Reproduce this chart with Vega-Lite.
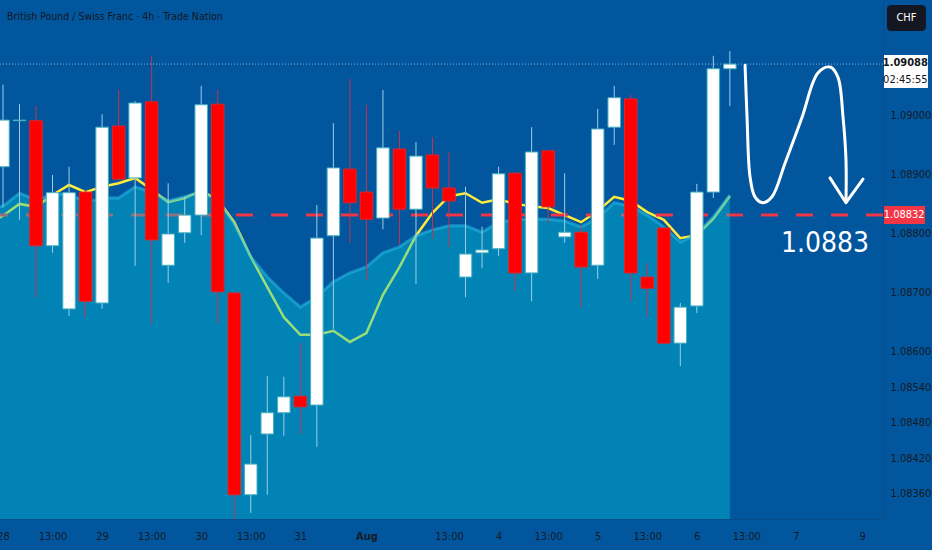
{
  "$schema": "https://vega.github.io/schema/vega-lite/v6.json",
  "width": 883,
  "height": 519,
  "autosize": {"type": "none"},
  "padding": {"left": 0, "top": 0, "right": 49, "bottom": 31},
  "background": "#02569e",
  "config": {"view": {"stroke": null}, "font": "'DejaVu Sans Condensed', 'Roboto Condensed', Roboto, sans-serif"},
  "data": {"values": [{}]},
  "datasets": {
    "candles": [
      {"i": 0, "o": 1.08914, "h": 1.09053, "l": 1.08846, "c": 1.08993},
      {"i": 1, "o": 1.08992, "h": 1.0902, "l": 1.08824, "c": 1.08993},
      {"i": 2, "o": 1.08992, "h": 1.09017, "l": 1.08692, "c": 1.0878},
      {"i": 3, "o": 1.0878, "h": 1.089, "l": 1.08768, "c": 1.0887},
      {"i": 4, "o": 1.08673, "h": 1.08914, "l": 1.08661, "c": 1.0887},
      {"i": 5, "o": 1.08871, "h": 1.08875, "l": 1.08659, "c": 1.08686},
      {"i": 6, "o": 1.08683, "h": 1.09003, "l": 1.08673, "c": 1.08981},
      {"i": 7, "o": 1.08983, "h": 1.09044, "l": 1.0889, "c": 1.08893},
      {"i": 8, "o": 1.08895, "h": 1.09025, "l": 1.08746, "c": 1.09022},
      {"i": 9, "o": 1.09024, "h": 1.09102, "l": 1.08647, "c": 1.0879},
      {"i": 10, "o": 1.08747, "h": 1.08886, "l": 1.08717, "c": 1.088},
      {"i": 11, "o": 1.08802, "h": 1.08863, "l": 1.08785, "c": 1.08832},
      {"i": 12, "o": 1.08832, "h": 1.09051, "l": 1.08798, "c": 1.09019},
      {"i": 13, "o": 1.0902, "h": 1.09044, "l": 1.08647, "c": 1.08702},
      {"i": 14, "o": 1.087, "h": 1.08702, "l": 1.08317, "c": 1.08358},
      {"i": 15, "o": 1.08358, "h": 1.08459, "l": 1.08327, "c": 1.0841},
      {"i": 16, "o": 1.08461, "h": 1.08559, "l": 1.08358, "c": 1.08497},
      {"i": 17, "o": 1.08497, "h": 1.08558, "l": 1.08458, "c": 1.08524},
      {"i": 18, "o": 1.08525, "h": 1.08615, "l": 1.08461, "c": 1.08507},
      {"i": 19, "o": 1.0851, "h": 1.08849, "l": 1.08439, "c": 1.08793},
      {"i": 20, "o": 1.08797, "h": 1.08988, "l": 1.08639, "c": 1.08912},
      {"i": 21, "o": 1.0891, "h": 1.09063, "l": 1.08785, "c": 1.08853},
      {"i": 22, "o": 1.08871, "h": 1.09019, "l": 1.08722, "c": 1.08825},
      {"i": 23, "o": 1.08827, "h": 1.09044, "l": 1.08808, "c": 1.08946},
      {"i": 24, "o": 1.08944, "h": 1.08975, "l": 1.08781, "c": 1.08842},
      {"i": 25, "o": 1.08842, "h": 1.08956, "l": 1.08715, "c": 1.08932},
      {"i": 26, "o": 1.08934, "h": 1.08964, "l": 1.08792, "c": 1.08878},
      {"i": 27, "o": 1.08878, "h": 1.08939, "l": 1.08778, "c": 1.08856},
      {"i": 28, "o": 1.08727, "h": 1.0888, "l": 1.08693, "c": 1.08766},
      {"i": 29, "o": 1.08768, "h": 1.08812, "l": 1.08742, "c": 1.08773},
      {"i": 30, "o": 1.08775, "h": 1.08914, "l": 1.08763, "c": 1.08902},
      {"i": 31, "o": 1.08903, "h": 1.08905, "l": 1.08703, "c": 1.08734},
      {"i": 32, "o": 1.08734, "h": 1.08981, "l": 1.08686, "c": 1.08939},
      {"i": 33, "o": 1.08941, "h": 1.08942, "l": 1.08819, "c": 1.08846},
      {"i": 34, "o": 1.08795, "h": 1.08903, "l": 1.08785, "c": 1.08803},
      {"i": 35, "o": 1.08803, "h": 1.08814, "l": 1.08675, "c": 1.08744},
      {"i": 36, "o": 1.08747, "h": 1.09012, "l": 1.08724, "c": 1.08978},
      {"i": 37, "o": 1.08981, "h": 1.09051, "l": 1.08951, "c": 1.09031},
      {"i": 38, "o": 1.09029, "h": 1.09036, "l": 1.08686, "c": 1.08734},
      {"i": 39, "o": 1.08727, "h": 1.08751, "l": 1.08659, "c": 1.08708},
      {"i": 40, "o": 1.0881, "h": 1.08812, "l": 1.08614, "c": 1.08615},
      {"i": 41, "o": 1.08615, "h": 1.08683, "l": 1.08576, "c": 1.08676},
      {"i": 42, "o": 1.08678, "h": 1.08885, "l": 1.08666, "c": 1.08871},
      {"i": 43, "o": 1.08871, "h": 1.09102, "l": 1.08861, "c": 1.0908},
      {"i": 44, "o": 1.0908, "h": 1.0911, "l": 1.09017, "c": 1.09088}
    ],
    "ma": [
      {"i": -1, "fast": 1.08815, "slow": 1.08841},
      {"i": 0, "fast": 1.08831, "slow": 1.08847},
      {"i": 1, "fast": 1.08851, "slow": 1.08869},
      {"i": 2, "fast": 1.08846, "slow": 1.08858},
      {"i": 3, "fast": 1.08866, "slow": 1.08866},
      {"i": 4, "fast": 1.08883, "slow": 1.08869},
      {"i": 5, "fast": 1.08871, "slow": 1.08853},
      {"i": 6, "fast": 1.0888, "slow": 1.08861},
      {"i": 7, "fast": 1.08886, "slow": 1.08861},
      {"i": 8, "fast": 1.08895, "slow": 1.0888},
      {"i": 9, "fast": 1.08875, "slow": 1.08871},
      {"i": 10, "fast": 1.08854, "slow": 1.08856},
      {"i": 11, "fast": 1.08861, "slow": 1.08863},
      {"i": 12, "fast": 1.08873, "slow": 1.08871},
      {"i": 13, "fast": 1.08858, "slow": 1.08858},
      {"i": 14, "fast": 1.0882, "slow": 1.08817},
      {"i": 15, "fast": 1.08761, "slow": 1.08761},
      {"i": 16, "fast": 1.0871, "slow": 1.08727},
      {"i": 17, "fast": 1.08659, "slow": 1.087},
      {"i": 18, "fast": 1.08629, "slow": 1.08676},
      {"i": 19, "fast": 1.08629, "slow": 1.08693},
      {"i": 20, "fast": 1.08636, "slow": 1.08719},
      {"i": 21, "fast": 1.08617, "slow": 1.08734},
      {"i": 22, "fast": 1.08632, "slow": 1.08744},
      {"i": 23, "fast": 1.08697, "slow": 1.08768},
      {"i": 24, "fast": 1.08744, "slow": 1.08778},
      {"i": 25, "fast": 1.08797, "slow": 1.08797},
      {"i": 26, "fast": 1.08836, "slow": 1.08807},
      {"i": 27, "fast": 1.08864, "slow": 1.08814},
      {"i": 28, "fast": 1.08869, "slow": 1.08814},
      {"i": 29, "fast": 1.08853, "slow": 1.08803},
      {"i": 30, "fast": 1.08859, "slow": 1.0882},
      {"i": 31, "fast": 1.08851, "slow": 1.08824},
      {"i": 32, "fast": 1.08847, "slow": 1.08825},
      {"i": 33, "fast": 1.08844, "slow": 1.08825},
      {"i": 34, "fast": 1.08832, "slow": 1.08822},
      {"i": 35, "fast": 1.0882, "slow": 1.08812},
      {"i": 36, "fast": 1.08839, "slow": 1.08827},
      {"i": 37, "fast": 1.08863, "slow": 1.08853},
      {"i": 38, "fast": 1.08856, "slow": 1.08847},
      {"i": 39, "fast": 1.08837, "slow": 1.08832},
      {"i": 40, "fast": 1.08824, "slow": 1.08812},
      {"i": 41, "fast": 1.08793, "slow": 1.08786},
      {"i": 42, "fast": 1.08798, "slow": 1.088},
      {"i": 43, "fast": 1.08826, "slow": 1.08829},
      {"i": 44, "fast": 1.08864, "slow": 1.08866}
    ],
    "curve": [
      {"k": 0, "i": 44.92, "p": 1.09086},
      {"k": 1, "i": 45.04, "p": 1.08998},
      {"k": 2, "i": 45.22, "p": 1.08897},
      {"k": 3, "i": 45.52, "p": 1.08863},
      {"k": 4, "i": 46.0, "p": 1.08853},
      {"k": 5, "i": 46.55, "p": 1.08863},
      {"k": 6, "i": 47.34, "p": 1.0892},
      {"k": 7, "i": 48.37, "p": 1.08998},
      {"k": 8, "i": 49.33, "p": 1.09073},
      {"k": 9, "i": 50.06, "p": 1.09083},
      {"k": 10, "i": 50.54, "p": 1.09066},
      {"k": 11, "i": 50.85, "p": 1.08998},
      {"k": 12, "i": 51.03, "p": 1.08925},
      {"k": 13, "i": 51.03, "p": 1.08854}
    ],
    "arrow": [
      {"k": 0, "i": 50.06, "p": 1.08895},
      {"k": 1, "i": 51.03, "p": 1.08853},
      {"k": 2, "i": 52.06, "p": 1.08893}
    ]
  },
  "layer": [
    {
      "data": {"name": "ma"},
      "mark": {"type": "line", "color": "#ffeb3b", "strokeWidth": 2.5, "clip": true},
      "encoding": {
        "x": {
          "field": "i", "type": "quantitative",
          "scale": {"domain": [-0.18, 53.27], "nice": false, "zero": false, "padding": 0},
          "axis": {
            "orient": "bottom", "grid": false, "ticks": false, "tickSize": 0,
            "domain": true, "domainColor": "#0b4c8a", "labelPadding": 11,
            "values": [0, 3, 6, 9, 12, 15, 18, 22, 27, 30, 33, 36, 39, 42, 45, 48, 52],
            "labelExpr": "['28','13:00','29','13:00','30','13:00','31','Aug','13:00','4','13:00','5','13:00','6','13:00','7','9'][indexof([0,3,6,9,12,15,18,22,27,30,33,36,39,42,45,48,52], datum.value)]",
            "labelFlush": false, "labelOverlap": false, "labelBound": false,
            "labelFontSize": 11, "labelColor": "#161a25",
            "labelFontWeight": {"condition": {"test": "datum.value == 22", "value": "bold"}, "value": "normal"},
            "title": null
          }
        },
        "y": {
          "field": "fast", "type": "quantitative",
          "scale": {"domain": [1.083169, 1.091966], "nice": false, "zero": false, "padding": 0},
          "axis": {
            "orient": "right", "grid": false, "ticks": false, "tickSize": 0,
            "domain": true, "domainColor": "#0b4c8a", "labelPadding": 7,
            "values": [1.0836, 1.0842, 1.0848, 1.0854, 1.086, 1.087, 1.088, 1.089, 1.09],
            "format": ".5f", "labelOverlap": false, "labelBound": false, "labelFlush": false,
            "labelFontSize": 11, "labelColor": "#161a25",
            "title": null
          }
        }
      }
    },
    {
      "mark": {"type": "rule", "color": "#f23645", "strokeWidth": 3, "strokeDash": [17, 18]},
      "encoding": {"y": {"datum": 1.08832, "type": "quantitative"}}
    },
    {
      "data": {"name": "ma"},
      "mark": {"type": "area", "color": "#00c8d7", "opacity": 0.4, "clip": true},
      "encoding": {
        "x": {"field": "i", "type": "quantitative"},
        "y": {"field": "slow", "type": "quantitative"}
      }
    },
    {
      "data": {"name": "ma"},
      "mark": {"type": "line", "color": "#28bde6", "opacity": 0.55, "strokeWidth": 3, "clip": true},
      "encoding": {
        "x": {"field": "i", "type": "quantitative"},
        "y": {"field": "slow", "type": "quantitative"}
      }
    },
    {
      "mark": {"type": "rule", "color": "#a8cbe8", "strokeWidth": 1, "strokeDash": [1, 2], "opacity": 0.8},
      "encoding": {"y": {"datum": 1.09088, "type": "quantitative"}}
    },
    {
      "data": {"name": "candles"},
      "mark": {"type": "rule", "strokeWidth": 1},
      "encoding": {
        "x": {"field": "i", "type": "quantitative"},
        "y": {"field": "l", "type": "quantitative"},
        "y2": {"field": "h"},
        "color": {"condition": {"test": "datum.c >= datum.o", "value": "#9fcde6"}, "value": "#c2334d"}
      }
    },
    {
      "data": {"name": "candles"},
      "mark": {"type": "bar", "size": 12.5, "strokeWidth": 1},
      "encoding": {
        "x": {"field": "i", "type": "quantitative"},
        "y": {"field": "o", "type": "quantitative"},
        "y2": {"field": "c"},
        "color": {"condition": {"test": "datum.c >= datum.o", "value": "#ffffff"}, "value": "#ff0000"},
        "stroke": {"condition": {"test": "datum.c >= datum.o", "value": "#45b0bf"}, "value": "#e0242c"}
      }
    },
    {
      "data": {"name": "curve"},
      "mark": {"type": "line", "color": "#ffffff", "strokeWidth": 3, "interpolate": "catmull-rom", "strokeCap": "round"},
      "encoding": {
        "x": {"field": "i", "type": "quantitative"},
        "y": {"field": "p", "type": "quantitative"},
        "order": {"field": "k"}
      }
    },
    {
      "data": {"name": "arrow"},
      "mark": {"type": "line", "color": "#ffffff", "strokeWidth": 3, "strokeCap": "round", "strokeJoin": "round"},
      "encoding": {
        "x": {"field": "i", "type": "quantitative"},
        "y": {"field": "p", "type": "quantitative"},
        "order": {"field": "k"}
      }
    },
    {
      "mark": {"type": "text", "text": "1.0883", "color": "#ffffff", "fontSize": 28, "align": "center", "baseline": "alphabetic"},
      "encoding": {
        "x": {"datum": 49.76, "type": "quantitative"},
        "y": {"datum": 1.087695, "type": "quantitative"}
      }
    },
    {
      "mark": {"type": "text", "text": "British Pound / Swiss Franc · 4h · Trade Nation", "color": "#131722", "fontSize": 10.5, "align": "left", "baseline": "middle"},
      "encoding": {
        "x": {"datum": 0.24, "type": "quantitative"},
        "y": {"datum": 1.09168, "type": "quantitative"}
      }
    },
    {
      "mark": {"type": "rect", "color": "#ffffff", "clip": false},
      "encoding": {
        "x": {"datum": 53.33, "type": "quantitative"},
        "x2": {"datum": 55.99},
        "y": {"datum": 1.091034, "type": "quantitative"},
        "y2": {"datum": 1.090475}
      }
    },
    {
      "mark": {"type": "text", "text": "1.09088", "color": "#131722", "fontSize": 11, "fontWeight": "bold", "align": "center", "baseline": "middle", "clip": false},
      "encoding": {
        "x": {"datum": 54.62, "type": "quantitative"},
        "y": {"datum": 1.0909, "type": "quantitative"}
      }
    },
    {
      "mark": {"type": "text", "text": "02:45:55", "color": "#131722", "fontSize": 11, "align": "center", "baseline": "middle", "clip": false},
      "encoding": {
        "x": {"datum": 54.62, "type": "quantitative"},
        "y": {"datum": 1.09061, "type": "quantitative"}
      }
    },
    {
      "mark": {"type": "rect", "color": "#f23645", "clip": false},
      "encoding": {
        "x": {"datum": 53.33, "type": "quantitative"},
        "x2": {"datum": 55.81},
        "y": {"datum": 1.088475, "type": "quantitative"},
        "y2": {"datum": 1.088169}
      }
    },
    {
      "mark": {"type": "text", "text": "1.08832", "color": "#ffffff", "fontSize": 11, "align": "center", "baseline": "middle", "clip": false},
      "encoding": {
        "x": {"datum": 54.55, "type": "quantitative"},
        "y": {"datum": 1.08832, "type": "quantitative"}
      }
    },
    {
      "mark": {"type": "rect", "color": "#131722", "cornerRadius": 4, "clip": false},
      "encoding": {
        "x": {"datum": 53.51, "type": "quantitative"},
        "x2": {"datum": 55.87},
        "y": {"datum": 1.091881, "type": "quantitative"},
        "y2": {"datum": 1.091441}
      }
    },
    {
      "mark": {"type": "text", "text": "CHF", "color": "#ffffff", "fontSize": 11, "align": "center", "baseline": "middle", "clip": false},
      "encoding": {
        "x": {"datum": 54.69, "type": "quantitative"},
        "y": {"datum": 1.09166, "type": "quantitative"}
      }
    }
  ]
}
